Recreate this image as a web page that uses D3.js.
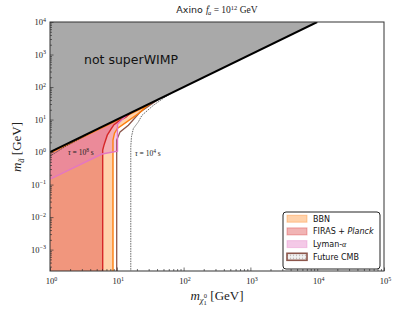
<!DOCTYPE html>
<html>
<head>
<meta charset="utf-8">
<script src="https://cdn.jsdelivr.net/npm/d3@7"></script>
<style>
  body { margin: 0; background: #fff; }
  svg { display: block; }
</style>
</head>
<body>
<div id="chart"></div>
<script>
// values (m_chi [GeV], m_axino [GeV])
const xDomain = [1, 1e5];
const yDomain = [2.2e-4, 1e4];
const xMajorExp = [0, 1, 2, 3, 4, 5];
const yMajorExp = [-3, -2, -1, 0, 1, 2, 3, 4];

const diagonal = [[1, 1], [1e4, 1e4]];
const firasEdge = [[6.15, 1e-4], [6.15, 1.15], [6.43, 1.64], [7.2, 3.31], [8.19, 5.05], [9.08, 6.93], [10.8, 9.06], [13.7, 11.8], [16, 16]];
const bbnEdge = [[8.77, 1e-4], [8.77, 2.33], [9.24, 3.81], [10.2, 5.31], [14.1, 8.45], [22.2, 16.5], [31, 31]];
const bbnTop = [[31, 29], [1, 0.93]];
const lymanEdge = [[1, 0.146], [6.0, 0.87], [10.24, 1.07], [10.24, 7.18], [14.5, 14.5]];
const cmbEdge = [[9.97, 1e-4], [9.97, 2.33], [11.2, 4.18], [14.9, 6.69], [22.2, 16.7], [42, 42]];
const tau4 = [[16.2, 1e-4], [16.2, 1.5], [16.6, 3], [17.7, 5.3], [21, 8.45], [23.8, 13.5], [35.2, 27.3], [52.7, 49.1], [70, 70]];
const tau8 = [[1, 0.75], [1.68, 1.47], [2.81, 2.55], [4.5, 4.4]];

const legendItems = [
  { key: "bbn", label: "BBN" },
  { key: "firas", label: "FIRAS + ", italic: "Planck" },
  { key: "lyman", label: "Lyman-", greek: "α" },
  { key: "cmb", label: "Future CMB" }
];

const colors = {
  bbn: "#ff7f0e",
  firas: "#d62728",
  lyman: "#e377c2",
  cmb: "#8c564b",
  gray: "#a9a9a9"
};

const width = 398;
const height = 314;
const margin = { top: 22, right: 14, bottom: 43, left: 50 };

const svg = d3.select("#chart").append("svg")
  .attr("width", width)
  .attr("height", height);

const defs = svg.append("defs");
defs.append("clipPath").attr("id", "plotClip")
  .append("rect")
  .attr("x", margin.left).attr("y", margin.top)
  .attr("width", width - margin.left - margin.right)
  .attr("height", height - margin.top - margin.bottom);

const dots = defs.append("pattern")
  .attr("id", "dots")
  .attr("width", 3).attr("height", 3)
  .attr("patternUnits", "userSpaceOnUse");
dots.append("rect").attr("width", 3).attr("height", 3).attr("fill", "#f2f2f2");
dots.append("circle").attr("cx", 1.5).attr("cy", 1.5).attr("r", 0.7).attr("fill", "#b9b0ae");

const x = d3.scaleLog().domain(xDomain).range([margin.left, width - margin.right]);
const y = d3.scaleLog().domain(yDomain).range([height - margin.bottom, margin.top]);

const line = d3.line().x((d) => x(d[0])).y((d) => y(d[1]));
const bottomVal = 1e-4;

const plot = svg.append("g").attr("clip-path", "url(#plotClip)");

// region polygons: edge + back along diagonal / left border
const firasPoly = firasEdge.concat([[1, 1], [1, bottomVal]]);
const bbnPoly = bbnEdge.concat(bbnTop, [[1, bottomVal]]);
const lymanPoly = lymanEdge.concat([[1, 1]]);

plot.append("path").datum(bbnPoly).attr("d", line).attr("fill", colors.bbn).attr("fill-opacity", 0.35);
plot.append("path").datum(firasPoly).attr("d", line).attr("fill", colors.firas).attr("fill-opacity", 0.35);
plot.append("path").datum(lymanPoly).attr("d", line).attr("fill", colors.lyman).attr("fill-opacity", 0.4);

plot.append("path").datum(cmbEdge).attr("d", line).attr("fill", "none").attr("stroke", colors.cmb).attr("stroke-width", 1.3);
plot.append("path").datum(bbnEdge.concat(bbnTop)).attr("d", line).attr("fill", "none").attr("stroke", colors.bbn).attr("stroke-width", 1.4);
plot.append("path").datum(firasEdge).attr("d", line).attr("fill", "none").attr("stroke", colors.firas).attr("stroke-width", 1.4);
plot.append("path").datum(lymanEdge).attr("d", line).attr("fill", "none").attr("stroke", colors.lyman).attr("stroke-width", 1.4);

plot.append("path").datum(tau4).attr("d", line).attr("fill", "none")
  .attr("stroke", "#222").attr("stroke-width", 0.7).attr("stroke-dasharray", "1.5,1");
plot.append("path").datum(tau8).attr("d", line).attr("fill", "none")
  .attr("stroke", "#222").attr("stroke-width", 0.7).attr("stroke-dasharray", "1.5,1");

// not superWIMP region
plot.append("path").datum([[1, 1], [1e4, 1e4], [1e5, 1e5], [1, 1e5]])
  .attr("d", line).attr("fill", colors.gray);
plot.append("path").datum(diagonal).attr("d", line)
  .attr("fill", "none").attr("stroke", "#000").attr("stroke-width", 2);

// frame
svg.append("rect")
  .attr("x", margin.left).attr("y", margin.top)
  .attr("width", width - margin.left - margin.right)
  .attr("height", height - margin.top - margin.bottom)
  .attr("fill", "none").attr("stroke", "#333").attr("stroke-width", 1);

function minorTicks(lo, hi) {
  const out = [];
  for (let e = lo; e <= hi; e++) {
    for (let k = 2; k <= 9; k++) out.push(k * Math.pow(10, e));
  }
  return out;
}

const xMajor = xMajorExp.map((e) => Math.pow(10, e));
const yMajor = yMajorExp.map((e) => Math.pow(10, e));

const xAxis = svg.append("g").attr("transform", `translate(0,${height - margin.bottom})`);
xAxis.call(d3.axisBottom(x).tickValues(xMajor).tickSize(-3.5).tickFormat(""));
xAxis.append("g").call(d3.axisBottom(x).tickValues(minorTicks(0, 4)).tickSize(-2).tickFormat(""));
const yAxis = svg.append("g").attr("transform", `translate(${margin.left},0)`);
yAxis.call(d3.axisLeft(y).tickValues(yMajor).tickSize(-3.5).tickFormat(""));
yAxis.append("g").call(d3.axisLeft(y).tickValues(minorTicks(-4, 3).filter((v) => v >= yDomain[0])).tickSize(-2).tickFormat(""));
svg.selectAll(".domain").remove();
svg.selectAll(".tick line").attr("stroke", "#333").attr("stroke-width", 0.7);

const serif = "'Liberation Serif', 'DejaVu Serif', serif";
const sans = "'DejaVu Sans', sans-serif";

function powerLabel(g, e) {
  g.append("tspan").text("10");
  g.append("tspan").attr("dy", -3.5).attr("font-size", 6).text(String(e).replace("-", "−"));
}

xMajorExp.forEach((e) => {
  const t = svg.append("text")
    .attr("x", x(Math.pow(10, e)) + 1.5).attr("y", 284)
    .attr("text-anchor", "middle")
    .attr("font-family", serif).attr("font-size", 8.5).attr("fill", "#222");
  powerLabel(t, e);
});
yMajorExp.forEach((e) => {
  const t = svg.append("text")
    .attr("x", 46).attr("y", y(Math.pow(10, e)) + 3)
    .attr("text-anchor", "end")
    .attr("font-family", serif).attr("font-size", 8.5).attr("fill", "#222");
  powerLabel(t, e);
});

// title
const title = svg.append("text")
  .attr("x", 217).attr("y", 13).attr("text-anchor", "middle")
  .attr("font-size", 9.5).attr("fill", "#222");
title.append("tspan").attr("font-family", sans).text("Axino ");
title.append("tspan").attr("font-family", serif).attr("font-style", "italic").text("f");
title.append("tspan").attr("font-family", serif).attr("font-size", 6.5).attr("dy", -3).text("′");
title.append("tspan").attr("font-family", serif).attr("font-style", "italic").attr("font-size", 6.5).attr("dy", 5).attr("dx", -2).text("a");
title.append("tspan").attr("font-family", serif).attr("dy", -2).text(" = 10");
title.append("tspan").attr("font-family", serif).attr("font-size", 6.5).attr("dy", -3.5).text("12");
title.append("tspan").attr("font-family", serif).attr("dy", 3.5).text(" GeV");

// axis labels
const xl = svg.append("text")
  .attr("x", 217).attr("y", 300).attr("text-anchor", "middle")
  .attr("font-family", serif).attr("font-size", 13).attr("fill", "#222");
xl.append("tspan").attr("font-style", "italic").text("m");
xl.append("tspan").attr("font-style", "italic").attr("font-size", 8.5).attr("dy", 3).text("χ");
xl.append("tspan").attr("font-size", 6.5).attr("dy", 2).text("1");
xl.append("tspan").attr("font-size", 6.5).attr("dy", -7).attr("dx", -3).text("0");
xl.append("tspan").attr("dy", 2).text(" [GeV]");

const yl = svg.append("text")
  .attr("transform", "translate(21,147) rotate(-90)")
  .attr("text-anchor", "middle")
  .attr("font-family", serif).attr("font-size", 13).attr("fill", "#222");
yl.append("tspan").attr("font-style", "italic").text("m");
yl.append("tspan").attr("font-style", "italic").attr("font-size", 8.5).attr("dy", 3).text("ã");
yl.append("tspan").attr("dy", -3).text(" [GeV]");

// annotations
svg.append("text")
  .attr("x", 131).attr("y", 64).attr("text-anchor", "middle")
  .attr("font-family", sans).attr("font-size", 12.5).attr("fill", "#111")
  .text("not superWIMP");

function tauLabel(px, py, e) {
  const t = svg.append("text").attr("x", px).attr("y", py)
    .attr("font-family", serif).attr("font-size", 7.5).attr("fill", "#222");
  t.append("tspan").attr("font-style", "italic").text("τ");
  t.append("tspan").text(" = 10");
  t.append("tspan").attr("font-size", 5.5).attr("dy", -3).text(e);
  t.append("tspan").attr("dy", 3).text(" s");
}
tauLabel(68, 155, "8");
tauLabel(135, 156, "4");

// legend
const legend = svg.append("g").attr("transform", "translate(283,212)");
legend.append("rect")
  .attr("width", 97).attr("height", 57).attr("rx", 3)
  .attr("fill", "#fff").attr("stroke", "#222").attr("stroke-width", 1);

legendItems.forEach((item, i) => {
  const row = legend.append("g").attr("transform", `translate(0,${6.7 + i * 12.7})`);
  const sw = row.append("rect")
    .attr("x", 4).attr("y", -3.5).attr("width", 20).attr("height", 7);
  if (item.key === "cmb") {
    sw.attr("fill", "url(#dots)").attr("stroke", colors.cmb).attr("stroke-width", 1.6);
  } else {
    sw.attr("fill", colors[item.key]).attr("fill-opacity", item.key === "lyman" ? 0.4 : 0.35)
      .attr("stroke", colors[item.key]).attr("stroke-opacity", 0.35).attr("stroke-width", 1);
  }
  const t = row.append("text")
    .attr("x", 30).attr("y", 3)
    .attr("font-family", sans).attr("font-size", 8).attr("fill", "#111");
  t.append("tspan").text(item.label);
  if (item.italic) t.append("tspan").attr("font-style", "italic").text(item.italic);
  if (item.greek) t.append("tspan").attr("font-family", serif).attr("font-style", "italic").text(item.greek);
});
</script>
</body>
</html>
